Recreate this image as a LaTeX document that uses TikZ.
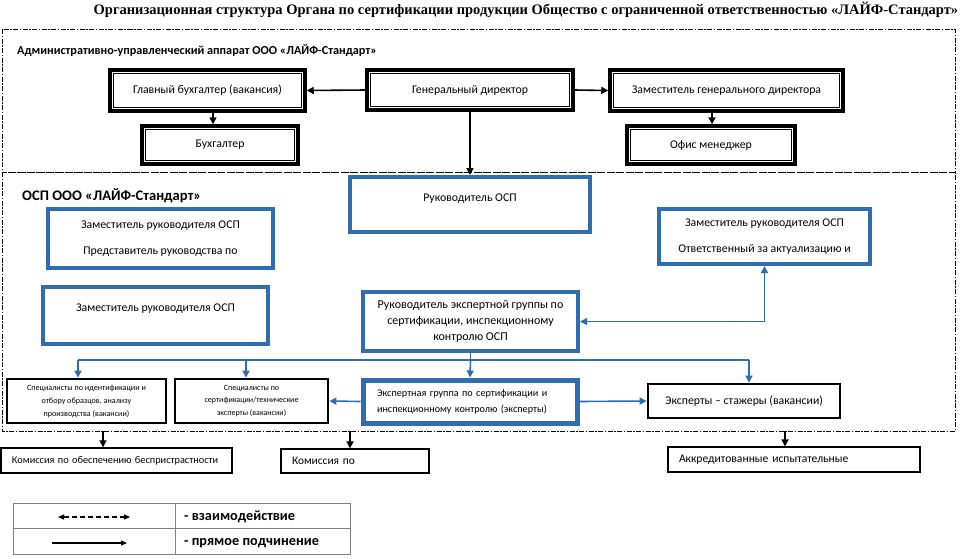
\documentclass[tikz,border=0pt]{standalone}
\usepackage{fontspec}
\setmainfont{Carlito}
\newfontfamily\titlefont{Liberation Serif}
\usetikzlibrary{arrows.meta,calc}
\definecolor{osp}{RGB}{47,108,176}
\newcommand\obox[7]{\node[#6, minimum width={(#4-#2)*1pt}, minimum height={(#5-#3)*1pt}] (#1) at ({(#2+#4)/2},{(#3+#5)/2}) {#7};}
\begin{document}
\begin{tikzpicture}[x=1pt,y=-1pt,
  box/.style={inner sep=2pt, align=center, font=\fontsize{11.8}{14}\selectfont},
  topbox/.style={box, draw=black, line width=3.5pt},
  bluebox/.style={box, draw=osp, line width=4pt},
  blackbox/.style={box, draw=black, line width=2.8pt},
  thinbox/.style={draw=black, line width=1.3pt, align=left, inner xsep=11pt, inner ysep=2pt, font=\fontsize{10.3}{12}\selectfont},
  arr/.style={-{Triangle[length=7pt,width=7pt]}, line width=1.6pt},
  barr/.style={-{Triangle[length=7pt,width=7pt]}, draw=osp, line width=1.6pt},
  bline/.style={draw=osp, line width=1.2pt},
  section/.style={draw=black, line width=0.9pt, dash pattern=on 5pt off 1.5pt on 1.5pt off 1.5pt},
  lbl/.style={anchor=west, inner sep=0pt},
]
\useasboundingbox (0,0) rectangle (960,558);

% title
\node[font=\titlefont\bfseries\fontsize{14.5}{16}\selectfont] (title) at (526,10)
  {Организационная структура Органа по сертификации продукции Общество с ограниченной ответственностью «ЛАЙФ-Стандарт»};

% sections
\draw[section] (2,29) rectangle (955,172);
\draw[section] (2,172) rectangle (955,431);
\node[lbl, font=\bfseries\fontsize{12.2}{14}\selectfont] (admlbl) at (17,50) {Административно-управленческий аппарат ООО «ЛАЙФ-Стандарт»};
\node[lbl, font=\bfseries\fontsize{14.6}{16}\selectfont] (osplbl) at (22,196) {ОСП ООО «ЛАЙФ-Стандарт»};

% top boxes
\obox{glbux}{110}{70}{305}{111}{topbox}{Главный бухгалтер (вакансия)}
\obox{gendir}{367}{70}{573}{110}{topbox}{Генеральный директор}
\obox{zamgen}{610}{70}{843}{111}{topbox}{Заместитель генерального директора}
\obox{bux}{142}{126}{298}{164}{topbox}{Бухгалтер}
\obox{office}{627}{126}{795}{164}{topbox}{Офис менеджер}
\foreach \n in {glbux,gendir,zamgen,bux,office}
  \draw[line width=1.3pt] ([shift={(5pt,-5pt)}]\n.north west) rectangle ([shift={(-5pt,5pt)}]\n.south east);

% blue boxes
\obox{rukosp}{350}{177}{590}{232}{bluebox}{Руководитель ОСП\\[-1pt]\mbox{}}
\obox{zam1}{48}{209}{273}{268}{bluebox, font=\fontsize{11.8}{26}\selectfont}{Заместитель руководителя ОСП\\Представитель руководства по}
\obox{zam2}{43}{287}{268}{344}{bluebox}{Заместитель руководителя ОСП\\[1pt]\mbox{}}
\obox{zam3}{659}{209}{870}{264}{bluebox, font=\fontsize{11.8}{26}\selectfont}{Заместитель руководителя ОСП\\Ответственный за актуализацию и}
\obox{rukexp}{363}{292}{578}{351}{bluebox, font=\fontsize{12}{16}\selectfont}{Руководитель экспертной группы по\\сертификации, инспекционному\\контролю ОСП}
\obox{expgrp}{363}{380}{577}{423}{bluebox, line width=5pt, align=left, text width=186pt, font=\fontsize{10.2}{16}\selectfont}{Экспертная группа по сертификации и\\инспекционному контролю (эксперты)}

% black boxes
\obox{spec1}{7}{379}{166}{423}{blackbox, font=\fontsize{8.1}{13}\selectfont}{Специалисты по идентификации и\\отбору образцов, анализу\\производства (вакансии)}
\obox{spec2}{175}{379}{328}{423}{blackbox, font=\fontsize{8}{12.5}\selectfont}{Специалисты по\\сертификации/технические\\эксперты (вакансии)}
\obox{stazh}{648}{384}{840}{418}{blackbox}{Эксперты – стажеры (вакансии)}

% thin boxes
\obox{kom1}{1}{448}{232}{473}{thinbox, text width=209pt}{Комиссия по обеспечению беспристрастности}
\obox{kom2}{281}{449}{429}{473}{thinbox, text width=126pt, font=\fontsize{11.4}{13}\selectfont}{Комиссия по}
\obox{akkr}{668}{447}{920}{472}{thinbox, text width=230pt, font=\fontsize{11.6}{13}\selectfont}{Аккредитованные испытательные}

% black connectors
\draw[arr] (gendir.west) -- (glbux.east);
\draw[arr] (gendir.east) -- (zamgen.west);
\draw[arr] (glbux.south -| 213,0) -- (bux.north -| 213,0);
\draw[arr] (zamgen.south -| 712,0) -- (office.north -| 712,0);
\draw[arr] (gendir.south) -- (rukosp.north);
\coordinate (o1) at (103,431);
\coordinate (o2) at (350,431);
\coordinate (o3) at (785,431);
\draw[arr] (o1) -- (kom1.north -| o1);
\draw[arr] (o2) -- (kom2.north -| o2);
\draw[arr] (o3) -- (akkr.north -| o3);

% blue connectors
\coordinate (hub) at (rukexp.south |- 0,360);
\coordinate (b1) at (78,360);
\coordinate (b2) at (246,360);
\coordinate (b4) at (749,360);
\draw[bline] (rukexp.south) -- (hub);
\draw[bline] (b1) -- (b4);
\draw[barr] (b1) -- (spec1.north -| b1);
\draw[barr] (b2) -- (spec2.north -| b2);
\draw[barr] (hub) -- (expgrp.north);
\draw[barr] (b4) -- (stazh.north -| b4);
\draw[barr] (expgrp.west) -- (spec2.east);
\draw[barr] (expgrp.east) -- (stazh.west);
\draw[bline, {Triangle[length=7pt,width=7pt]}-{Triangle[length=7pt,width=7pt]}, line width=1.6pt] (rukexp.east) -| (zam3.south);

% legend
\draw[draw=gray, line width=1pt] (13,503) rectangle (350,554);
\draw[draw=gray, line width=1pt] (175,503) -- (175,554);
\draw[draw=gray, line width=1pt] (13,528) -- (350,528);
\coordinate (l1a) at (58,517);
\coordinate (l1b) at (130,517);
\coordinate (l2a) at (52,543);
\coordinate (l2b) at (127,543);
\draw[{Triangle[length=6pt,width=5pt]}-{Triangle[length=6pt,width=5pt]}, dash pattern=on 5pt off 3pt, line width=1.1pt] (l1a) -- (l1b);
\draw[-{Triangle[length=6pt,width=5pt]}, line width=1.1pt] (l2a) -- (l2b);
\node[lbl, font=\bfseries\fontsize{14.3}{16}\selectfont] (lg1) at (184,517) {- взаимодействие};
\node[lbl, font=\bfseries\fontsize{14.3}{16}\selectfont] (lg2) at (184,543) {- прямое подчинение};
\end{tikzpicture}
\end{document}
